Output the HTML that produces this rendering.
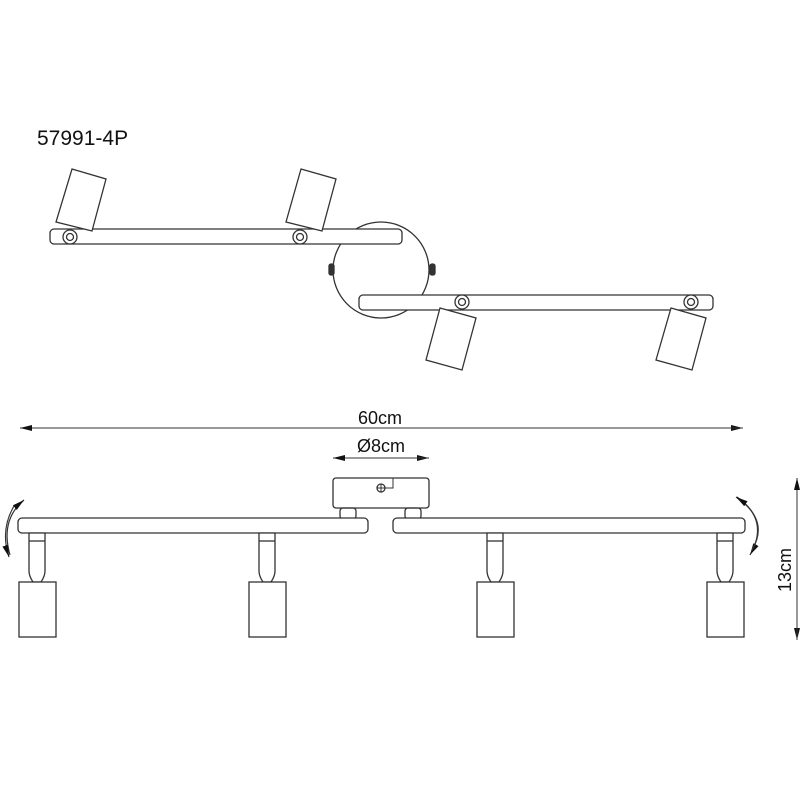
<!DOCTYPE html>
<html><head><style>body{margin:0;background:#fff}svg{display:block}</style></head><body>
<svg width="800" height="800" viewBox="0 0 800 800" xmlns="http://www.w3.org/2000/svg" font-family="Liberation Sans, sans-serif">
<defs>
<marker id="ar" markerWidth="12" markerHeight="6" refX="12" refY="3" orient="auto" markerUnits="userSpaceOnUse"><path d="M0,0 L12,3 L0,6 Z" fill="#111"/></marker>
</defs>
<rect width="800" height="800" fill="#fff"/>
<g fill="none" stroke="#333" stroke-width="1.3">
<text x="37" y="145" font-size="21" fill="#111" stroke="none">57991-4P</text>
<circle cx="381" cy="270" r="48" fill="#fff"/>
<rect x="329" y="264" width="5" height="11" rx="2" fill="#333"/>
<rect x="430" y="264" width="5" height="11" rx="2" fill="#333"/>
<rect x="50" y="229" width="352" height="15" rx="4" fill="#fff"/>
<rect x="359" y="295" width="354" height="15" rx="4" fill="#fff"/>
<polygon points="72,169 106,179 92,231 56,222" fill="#fff"/>
<polygon points="301,169 336,179 322,231 286,222" fill="#fff"/>
<circle cx="70" cy="237" r="7" fill="#fff"/><circle cx="70" cy="237" r="3.5"/>
<circle cx="300" cy="237" r="7" fill="#fff"/><circle cx="300" cy="237" r="3.5"/>
<polygon points="440,308 476,318 462,370 426,360" fill="#fff"/>
<polygon points="671,308 706,318 692,370 656,360" fill="#fff"/>
<circle cx="462" cy="302" r="7" fill="#fff"/><circle cx="462" cy="302" r="3.5"/>
<circle cx="691" cy="302" r="7" fill="#fff"/><circle cx="691" cy="302" r="3.5"/>
<line x1="20" y1="428" x2="743" y2="428" stroke-width="1" marker-end="url(#ar)"/>
<line x1="743" y1="428" x2="20" y2="428" stroke-width="1" marker-end="url(#ar)"/>
<text x="380" y="424" font-size="18" text-anchor="middle" fill="#111" stroke="none">60cm</text>
<line x1="333" y1="458" x2="429" y2="458" stroke-width="1" marker-end="url(#ar)"/>
<line x1="429" y1="458" x2="333" y2="458" stroke-width="1" marker-end="url(#ar)"/>
<text x="381" y="452" font-size="18" text-anchor="middle" fill="#111" stroke="none">Ø8cm</text>
<line x1="797" y1="478" x2="797" y2="640" stroke-width="1" marker-end="url(#ar)"/>
<line x1="797" y1="640" x2="797" y2="478" stroke-width="1" marker-end="url(#ar)"/>
<text transform="translate(791,570) rotate(-90)" font-size="18" text-anchor="middle" fill="#111" stroke="none">13cm</text>
<rect x="333" y="478" width="96" height="30" rx="3" fill="#fff"/>
<circle cx="381" cy="488" r="4"/><path d="M381,484 v8 M377,488 h8 M385,488 h8 v-10" stroke-width="1"/>
<rect x="340" y="508" width="16" height="11" rx="3"/>
<rect x="405" y="508" width="16" height="11" rx="3"/>
<rect x="18" y="518" width="350" height="15" rx="4" fill="#fff"/>
<rect x="393" y="518" width="352" height="15" rx="4" fill="#fff"/>
<g id="s">
<path d="M29,533 h16 v38 q0,5 -4,11 h-8 q-4,-6 -4,-11 Z" fill="#fff"/>
<line x1="29" y1="541" x2="45" y2="541"/>
<rect x="19" y="582" width="37" height="55" fill="#fff"/>
</g>
<use href="#s" x="230"/>
<use href="#s" x="458"/>
<use href="#s" x="688"/>
<path d="M10,555 Q0,520 24,500" stroke-width="1.2" marker-end="url(#ar)"/>
<path d="M14,506 Q0,530 9,557" stroke-width="1.2" marker-end="url(#ar)"/>
<path d="M737,497 Q770,520 750,555" stroke-width="1.2" marker-end="url(#ar)"/>
<path d="M752,550 Q770,520 736,497" stroke-width="1.2" marker-end="url(#ar)"/>
</g>
</svg>
</body></html>
